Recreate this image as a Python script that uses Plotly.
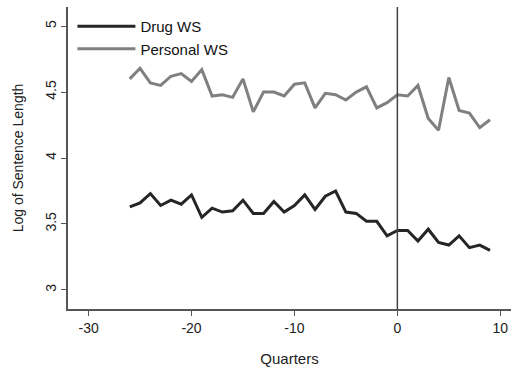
import plotly.graph_objects as go

quarters = list(range(-26, 10))
drug_ws = [3.63, 3.66, 3.73, 3.64, 3.68, 3.65, 3.72, 3.55, 3.62, 3.59, 3.60, 3.68,
           3.58, 3.58, 3.67, 3.59, 3.64, 3.72, 3.61, 3.71, 3.75, 3.59, 3.58, 3.52,
           3.52, 3.41, 3.45, 3.45, 3.37, 3.46, 3.36, 3.34, 3.41, 3.32, 3.34, 3.30]
personal_ws = [4.60, 4.68, 4.57, 4.55, 4.62, 4.64, 4.58, 4.67, 4.47, 4.48, 4.46, 4.60,
               4.35, 4.50, 4.50, 4.47, 4.56, 4.57, 4.38, 4.49, 4.48, 4.44, 4.50, 4.54,
               4.38, 4.42, 4.48, 4.47, 4.55, 4.30, 4.21, 4.61, 4.36, 4.34, 4.23, 4.29]
x_ticks = [-30, -20, -10, 0, 10]
x_tick_labels = ["-30", "-20", "-10", "0", "10"]
y_ticks = [3, 3.5, 4, 4.5, 5]
y_tick_labels = ["3", "3.5", "4", "4.5", "5"]

font = "Liberation Sans, Arial, sans-serif"

fig = go.Figure()
fig.add_trace(go.Scatter(x=quarters, y=drug_ws, mode="lines", name="Drug WS",
                         line=dict(color="#262626", width=3)))
fig.add_trace(go.Scatter(x=quarters, y=personal_ws, mode="lines", name="Personal WS",
                         line=dict(color="#808080", width=3)))

fig.add_shape(type="line", x0=0, x1=0, xref="x", y0=0, y1=1, yref="paper",
              line=dict(color="#444444", width=1.5))

fig.update_layout(
    width=511, height=367,
    margin=dict(l=68, r=0, t=7, b=58),
    paper_bgcolor="white", plot_bgcolor="white",
    font=dict(family=font, size=13, color="#222222"),
    showlegend=True,
    legend=dict(x=0.01, y=0.99, xanchor="left", yanchor="top",
                bgcolor="rgba(0,0,0,0)", font=dict(size=15, color="#111111"),
                tracegroupgap=0, itemwidth=58),
    xaxis=dict(range=[-32, 11.04], tickvals=x_ticks, ticktext=x_tick_labels,
               showgrid=False, zeroline=False,
               showline=True, linecolor="#555555", linewidth=1.5,
               ticks="outside", ticklen=5, tickcolor="#555555",
               tickfont=dict(size=14),
               title=dict(text="Quarters", standoff=20, font=dict(size=15))),
    yaxis=dict(range=[2.855, 5.145], tickvals=y_ticks, ticktext=y_tick_labels,
               showgrid=False, zeroline=False, tickangle=-90,
               showline=True, linecolor="#555555", linewidth=1.5,
               ticks="outside", ticklen=5, tickcolor="#555555",
               tickfont=dict(size=14),
               title=dict(text="Log of Sentence Length", standoff=16, font=dict(size=14))),
)

fig.write_html("out.html")
